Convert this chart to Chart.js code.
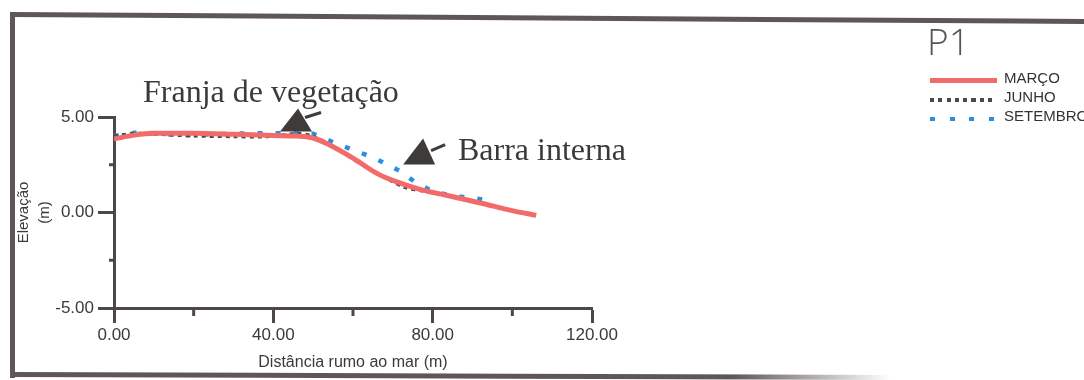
<!DOCTYPE html>
<html>
<head>
<meta charset="utf-8">
<title>P1</title>
<script src="https://cdn.jsdelivr.net/npm/chart.js@4.4.1/dist/chart.umd.min.js"></script>
<style>
body {
  margin: 0;
  width: 1084px;
  height: 380px;
  overflow: hidden;
  background: #fff;
  position: relative;
  font-family: "Liberation Sans", Arial, sans-serif;
}
canvas, svg { position: absolute; left: 0; top: 0; }

.serif { position: absolute; font-family: "Liberation Serif", "DejaVu Serif", serif; font-size: 32px; line-height: 1; color: #3a3a3a; white-space: nowrap; }
#p1 { position: absolute; left: 927px; top: 22px; font-family: "Open Sans", sans-serif; font-weight: 300; font-size: 37px; line-height: 1; color: #555; }
.key { position: absolute; left: 930px; }
.lbl { position: absolute; left: 1004px; font-size: 15px; line-height: 15px; color: #333; white-space: nowrap; }
</style>
</head>
<body>
<canvas id="perfil" width="1084" height="380"></canvas>

<!-- scanned frame round the figure -->
<svg width="1084" height="380">
  <defs>
    <linearGradient id="fade" x1="0" x2="1" y1="0" y2="0">
      <stop offset="0.82" stop-color="#5e5657" stop-opacity="1"/>
      <stop offset="1" stop-color="#5e5657" stop-opacity="0"/>
    </linearGradient>
  </defs>
  <polygon points="10,12 1084,19 1084,24 10,17" fill="#5e5657"/>
  <rect x="10" y="12" width="5" height="366" fill="#5e5657"/>
  <polygon points="10,372 890,375 890,380 10,377" fill="url(#fade)"/>
</svg>

<div class="serif" style="left:143px; top:75px;">Franja de vegetação</div>
<div class="serif" style="left:458px; top:133px;">Barra interna</div>

<div id="p1">P1</div>
<div class="key" style="top:78px; width:67px; height:5px; background:#f26b6b;"></div>
<div class="key" style="top:98px; width:64px; height:4px; background:repeating-linear-gradient(90deg,#4a4a4a 0 4px,transparent 4px 8.3px);"></div>
<div class="key" style="top:117px; width:64px; height:4px; background:repeating-linear-gradient(90deg,#2b8fe0 0 5px,transparent 5px 19.5px);"></div>
<div class="lbl" style="top:70px;">MARÇO</div>
<div class="lbl" style="top:89px;">JUNHO</div>
<div class="lbl" style="top:108px;">SETEMBRO</div>

<script>
var marcoX = [0, 5, 10, 20, 30, 40, 46, 50, 54, 60, 66, 71, 77, 84, 92, 100, 106];
var marcoY = [3.85, 4.05, 4.15, 4.15, 4.1, 4.03, 4.0, 3.9, 3.55, 2.85, 2.05, 1.6, 1.2, 0.88, 0.5, 0.1, -0.15];

var junhoX = [0, 5, 10, 20, 30, 37, 42, 46, 50, 55, 60, 65, 70, 73, 78, 85, 92];
var junhoY = [4.0, 4.15, 4.1, 4.0, 3.97, 3.95, 4.05, 4.15, 4.0, 3.45, 2.8, 2.15, 1.6, 1.3, 1.1, 0.85, 0.5];

var setembroX = [0, 6, 17, 35, 45, 50, 54, 58.5, 63, 67.5, 72, 75.5, 80, 85, 89.5, 95];
var setembroY = [4.0, 4.2, 4.05, 4.15, 4.15, 4.12, 3.77, 3.4, 3.04, 2.63, 2.15, 1.6, 1.1, 0.87, 0.77, 0.6];

var xTicks = [0, 40, 80, 120];
var yTicks = [-5, 0, 5];
var xMinor = [20, 60, 100];
var yMinor = [-2.5, 2.5];

function pts(xs, ys) {
  return xs.map(function (x, i) { return { x: x, y: ys[i] }; });
}

var axisColor = '#4d4747';
var tickFont = { family: 'Liberation Sans', size: 17 };

// short minor ticks and the two hand drawn arrows
var extras = {
  id: 'extras',
  afterDraw: function (chart) {
    var ctx = chart.ctx, sx = chart.scales.x, sy = chart.scales.y;
    ctx.save();
    ctx.strokeStyle = axisColor;
    ctx.lineWidth = 3;
    xMinor.forEach(function (v) {
      var px = sx.getPixelForValue(v);
      ctx.beginPath(); ctx.moveTo(px, sy.bottom); ctx.lineTo(px, sy.bottom + 8); ctx.stroke();
    });
    yMinor.forEach(function (v) {
      var py = sy.getPixelForValue(v);
      ctx.beginPath(); ctx.moveTo(sx.left, py); ctx.lineTo(sx.left - 5, py); ctx.stroke();
    });

    // arrows: anchor at centre of triangle base (data units)
    var arrows = [
      { x: 45.7, y: 4.24, apex: [2, -23], tail: [[9, -14], [25, -19]] },
      { x: 76.6, y: 2.51, apex: [4, -26], tail: [[12, -14], [26, -20]] }
    ];
    ctx.fillStyle = '#3f3b3b';
    ctx.strokeStyle = '#3f3b3b';
    arrows.forEach(function (a) {
      var bx = sx.getPixelForValue(a.x), by = sy.getPixelForValue(a.y);
      ctx.beginPath();
      ctx.moveTo(bx - 16, by);
      ctx.lineTo(bx + 16, by);
      ctx.lineTo(bx + a.apex[0], by + a.apex[1]);
      ctx.closePath();
      ctx.fill();
      ctx.lineWidth = 3;
      ctx.beginPath();
      ctx.moveTo(bx + a.tail[0][0], by + a.tail[0][1]);
      ctx.lineTo(bx + a.tail[1][0], by + a.tail[1][1]);
      ctx.stroke();
    });
    ctx.restore();
  }
};

new Chart(document.getElementById('perfil'), {
  type: 'line',
  data: {
    datasets: [
      {
        label: 'MARÇO',
        data: pts(marcoX, marcoY),
        borderColor: '#f26b6b',
        borderWidth: 5,
        cubicInterpolationMode: 'monotone',
        pointRadius: 0
      },
      {
        label: 'JUNHO',
        data: pts(junhoX, junhoY),
        borderColor: '#4a4a4a',
        borderWidth: 3,
        borderDash: [4, 4],
        tension: 0.3,
        pointRadius: 0
      },
      {
        label: 'SETEMBRO',
        data: pts(setembroX, setembroY),
        borderColor: '#2b8fe0',
        borderWidth: 4.5,
        borderDash: [5, 13],
        tension: 0,
        pointRadius: 0
      }
    ]
  },
  options: {
    responsive: false,
    animation: false,
    layout: { padding: { top: 117, right: 492, bottom: 0, left: 0 } },
    plugins: { legend: { display: false }, tooltip: { enabled: false } },
    scales: {
      x: {
        type: 'linear',
        min: 0, max: 120,
        afterBuildTicks: function (s) { s.ticks = xTicks.map(function (v) { return { value: v }; }); },
        afterFit: function (s) { s.height = 72; },
        ticks: { font: tickFont, color: '#3a3a3a', padding: 2, maxRotation: 0,
          callback: function (v) { return v.toFixed(2); } },
        grid: { drawOnChartArea: false, tickLength: 15, tickWidth: 3, tickColor: axisColor },
        border: { color: axisColor, width: 3 },
        title: { display: true, text: 'Distância rumo ao mar (m)', font: { family: 'Liberation Sans', size: 16 },
          color: '#3a3a3a', padding: { top: 0, bottom: 8 } }
      },
      y: {
        min: -5, max: 5,
        afterBuildTicks: function (s) { s.ticks = yTicks.map(function (v) { return { value: v }; }); },
        afterFit: function (s) { s.width = 114; },
        ticks: { font: tickFont, color: '#3a3a3a', padding: 4,
          callback: function (v) { return v.toFixed(2); } },
        grid: { drawOnChartArea: false, tickLength: 16, tickWidth: 3, tickColor: axisColor },
        border: { color: axisColor, width: 3 },
        title: { display: true, text: ['Elevação', '(m)'], font: { family: 'Liberation Sans', size: 15, lineHeight: 1.4 },
          color: '#3a3a3a', padding: { top: 13, bottom: 0 } }
      }
    }
  },
  plugins: [extras]
});
</script>
</body>
</html>
